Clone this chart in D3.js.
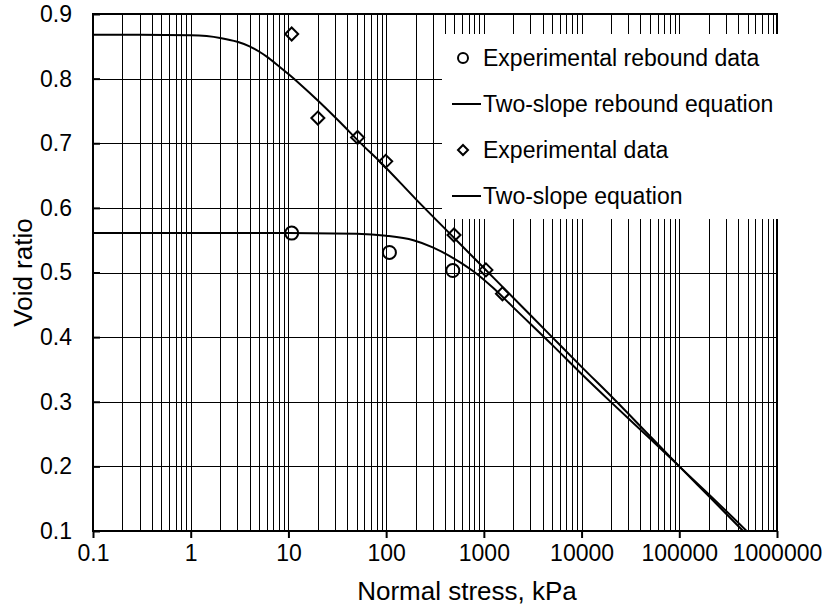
<!DOCTYPE html>
<html>
<head>
<meta charset="utf-8">
<script src="https://cdn.jsdelivr.net/npm/d3@7"></script>
<style>
  body { margin: 0; background: #fff; }
  text { font-family: "Liberation Sans", Arial, sans-serif; fill: #000; }
</style>
</head>
<body>
<div id="chart"></div>
<script>
// data
var decadeTicks = [0.1, 1, 10, 100, 1000, 10000, 100000, 1000000];
var decadeLabels = ["0.1", "1", "10", "100", "1000", "10000", "100000", "1000000"];
var voidTicks = [0.1, 0.2, 0.3, 0.4, 0.5, 0.6, 0.7, 0.8, 0.9];

var reboundStress = [10.8, 108, 481];
var reboundVoid = [0.561, 0.531, 0.503];

var expStress = [10.8, 20, 51, 99, 495, 1050, 1550];
var expVoid = [0.869, 0.739, 0.709, 0.672, 0.558, 0.504, 0.467];

var eqStress = [0.1, 0.3, 1, 2, 3, 4, 5, 6, 8, 10, 13, 21, 34, 54, 87, 200, 500, 1000, 2000, 5000, 10000, 21200, 50000, 100000, 200000, 450000];
var eqVoid = [0.868, 0.868, 0.867, 0.863, 0.857, 0.850, 0.842, 0.834, 0.819, 0.807, 0.792, 0.763, 0.732, 0.701, 0.671, 0.614, 0.553, 0.507, 0.461, 0.400, 0.354, 0.305, 0.247, 0.200, 0.154, 0.100];

var rbStress = [0.1, 1, 10, 50, 100, 190, 300, 490, 780, 1250, 2000, 5000, 10000, 19500, 50000, 100000, 200000, 490000];
var rbVoid = [0.561, 0.561, 0.561, 0.560, 0.557, 0.550, 0.539, 0.522, 0.502, 0.476, 0.446, 0.388, 0.343, 0.301, 0.243, 0.200, 0.157, 0.100];

var legendItems = [
    {label: "Experimental rebound data", kind: "circle"},
    {label: "Two-slope rebound equation", kind: "line"},
    {label: "Experimental data", kind: "diamond"},
    {label: "Two-slope equation", kind: "line"}
];

var W = 823, H = 609;
var pLeft = 93, pRight = 777, pTop = 14, pBottom = 531;

var svg = d3.select("#chart").append("svg")
    .attr("width", W)
    .attr("height", H);

var x = d3.scaleLog().domain([0.1, 1000000]).range([pLeft, pRight]);
var y = d3.scaleLinear().domain([0.1, 0.9]).range([pBottom, pTop]);

// grid: every 1..9 multiple on x, every 0.1 on y
var grid = svg.append("g").attr("shape-rendering", "crispEdges");

grid.selectAll("line.vx")
    .data(x.ticks())
    .enter().append("line")
    .attr("class", "vx")
    .attr("x1", function(d) { return Math.round(x(d)) + 0.5; })
    .attr("x2", function(d) { return Math.round(x(d)) + 0.5; })
    .attr("y1", pTop)
    .attr("y2", pBottom)
    .attr("stroke", "#000")
    .attr("stroke-width", 1);

grid.selectAll("line.hy")
    .data(voidTicks)
    .enter().append("line")
    .attr("class", "hy")
    .attr("x1", pLeft)
    .attr("x2", pRight)
    .attr("y1", function(d) { return Math.round(y(d)) + 0.5; })
    .attr("y2", function(d) { return Math.round(y(d)) + 0.5; })
    .attr("stroke", "#000")
    .attr("stroke-width", 1);

// axes
var xAxis = d3.axisBottom(x)
    .tickValues(decadeTicks)
    .tickFormat(function(d, i) { return decadeLabels[i]; })
    .tickSize(7)
    .tickPadding(7);

var yAxis = d3.axisLeft(y)
    .tickValues(voidTicks)
    .tickFormat(d3.format(".1f"))
    .tickSize(-7)
    .tickPadding(21);

var gx = svg.append("g")
    .attr("transform", "translate(0," + pBottom + ")")
    .call(xAxis);
gx.select(".domain").remove();
gx.selectAll(".tick line").attr("stroke", "#000").attr("stroke-width", 2);
gx.selectAll(".tick text").attr("font-size", "23px");

var gy = svg.append("g")
    .attr("transform", "translate(" + pLeft + ",0)")
    .call(yAxis);
gy.select(".domain").remove();
gy.selectAll(".tick line").attr("stroke", "#000").attr("stroke-width", 2);
gy.selectAll(".tick text").attr("font-size", "23px");

// plot frame
svg.append("rect")
    .attr("x", pLeft)
    .attr("y", pTop)
    .attr("width", pRight - pLeft)
    .attr("height", pBottom - pTop)
    .attr("fill", "none")
    .attr("stroke", "#000")
    .attr("stroke-width", 2);

// legend background hides the grid
svg.append("rect")
    .attr("x", 442)
    .attr("y", 34)
    .attr("width", 345)
    .attr("height", 185)
    .attr("fill", "#fff");

// curves
var line = d3.line()
    .x(function(d) { return x(d[0]); })
    .y(function(d) { return y(d[1]); })
    .curve(d3.curveMonotoneX);

svg.append("path")
    .datum(d3.zip(eqStress, eqVoid))
    .attr("d", line)
    .attr("fill", "none")
    .attr("stroke", "#000")
    .attr("stroke-width", 2);

svg.append("path")
    .datum(d3.zip(rbStress, rbVoid))
    .attr("d", line)
    .attr("fill", "none")
    .attr("stroke", "#000")
    .attr("stroke-width", 2);

// markers
var diamond = "M0,-6.5L6.5,0L0,6.5L-6.5,0Z";

svg.selectAll("circle.rb")
    .data(d3.zip(reboundStress, reboundVoid))
    .enter().append("circle")
    .attr("class", "rb")
    .attr("cx", function(d) { return x(d[0]); })
    .attr("cy", function(d) { return y(d[1]); })
    .attr("r", 6.5)
    .attr("fill", "none")
    .attr("stroke", "#000")
    .attr("stroke-width", 2);

svg.selectAll("path.exp")
    .data(d3.zip(expStress, expVoid))
    .enter().append("path")
    .attr("class", "exp")
    .attr("d", diamond)
    .attr("transform", function(d) { return "translate(" + x(d[0]) + "," + y(d[1]) + ")"; })
    .attr("fill", "none")
    .attr("stroke", "#000")
    .attr("stroke-width", 2);

// legend
var leg = svg.append("g");
legendItems.forEach(function(item, i) {
    var cy = 58 + i * 46;
    if (item.kind === "circle") {
        leg.append("circle").attr("cx", 463).attr("cy", cy).attr("r", 5)
           .attr("fill", "#fff").attr("stroke", "#000").attr("stroke-width", 2);
    } else if (item.kind === "diamond") {
        leg.append("path").attr("d", "M0,-5L5,0L0,5L-5,0Z")
           .attr("transform", "translate(463," + cy + ")")
           .attr("fill", "#fff").attr("stroke", "#000").attr("stroke-width", 2);
    } else {
        leg.append("line").attr("x1", 452).attr("x2", 481).attr("y1", cy).attr("y2", cy)
           .attr("stroke", "#000").attr("stroke-width", 2);
    }
    leg.append("text")
        .attr("x", 483)
        .attr("y", cy + 8)
        .attr("font-size", "23px")
        .text(item.label);
});

// axis titles
svg.append("text")
    .attr("x", 467)
    .attr("y", 600)
    .attr("text-anchor", "middle")
    .attr("font-size", "26px")
    .text("Normal stress, kPa");

svg.append("text")
    .attr("transform", "translate(32," + ((pTop + pBottom) / 2) + ") rotate(-90)")
    .attr("text-anchor", "middle")
    .attr("font-size", "26px")
    .text("Void ratio");
</script>
</body>
</html>
